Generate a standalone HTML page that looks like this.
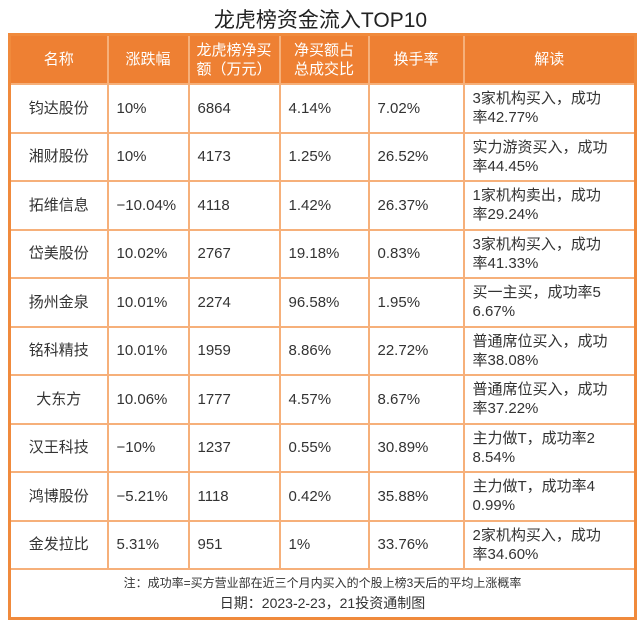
<!DOCTYPE html>
<html><head><meta charset="utf-8"><style>
body{margin:0;width:641px;height:625px;background:#fff;font-family:"Liberation Sans","Noto Sans CJK SC",sans-serif;color:#333;position:relative;overflow:hidden}
.title{position:absolute;left:0;width:641px;top:4px;text-align:center;font-size:21px;color:#222}
table{position:absolute;left:8px;top:33px;width:629px;border-collapse:collapse;border:3px solid #f08a3c;table-layout:fixed}
td,th{border:2px solid #f6b07a;font-size:15px;font-weight:normal;padding:0 0 0 8px;text-align:left;line-height:19px;height:46.5px}
th{background:#ee8033;color:#fff;border-color:#f6b07a;height:47px;text-align:center;padding:0}
td.n{text-align:center;padding:0}
.f td{text-align:center;padding:0;height:47px;line-height:20px}
</style></head><body>
<div class="title">龙虎榜资金流入TOP10</div>
<table>
<colgroup><col style="width:98px"><col style="width:81px"><col style="width:91px"><col style="width:89px"><col style="width:95px"><col></colgroup>
<tr><th>名称</th><th>涨跌幅</th><th>龙虎榜净买<br>额（万元）</th><th>净买额占<br>总成交比</th><th>换手率</th><th>解读</th></tr>
<tr><td class="n">钧达股份</td><td>10%</td><td>6864</td><td>4.14%</td><td>7.02%</td><td>3家机构买入，成功<br>率42.77%</td></tr>
<tr><td class="n">湘财股份</td><td>10%</td><td>4173</td><td>1.25%</td><td>26.52%</td><td>实力游资买入，成功<br>率44.45%</td></tr>
<tr><td class="n">拓维信息</td><td>−10.04%</td><td>4118</td><td>1.42%</td><td>26.37%</td><td>1家机构卖出，成功<br>率29.24%</td></tr>
<tr><td class="n">岱美股份</td><td>10.02%</td><td>2767</td><td>19.18%</td><td>0.83%</td><td>3家机构买入，成功<br>率41.33%</td></tr>
<tr><td class="n">扬州金泉</td><td>10.01%</td><td>2274</td><td>96.58%</td><td>1.95%</td><td>买一主买，成功率5<br>6.67%</td></tr>
<tr><td class="n">铭科精技</td><td>10.01%</td><td>1959</td><td>8.86%</td><td>22.72%</td><td>普通席位买入，成功<br>率38.08%</td></tr>
<tr><td class="n">大东方</td><td>10.06%</td><td>1777</td><td>4.57%</td><td>8.67%</td><td>普通席位买入，成功<br>率37.22%</td></tr>
<tr><td class="n">汉王科技</td><td>−10%</td><td>1237</td><td>0.55%</td><td>30.89%</td><td>主力做T，成功率2<br>8.54%</td></tr>
<tr><td class="n">鸿博股份</td><td>−5.21%</td><td>1118</td><td>0.42%</td><td>35.88%</td><td>主力做T，成功率4<br>0.99%</td></tr>
<tr><td class="n">金发拉比</td><td>5.31%</td><td>951</td><td>1%</td><td>33.76%</td><td>2家机构买入，成功<br>率34.60%</td></tr>
<tr class="f"><td colspan="6"><span style="font-size:12px">注：成功率=买方营业部在近三个月内买入的个股上榜3天后的平均上涨概率</span><br><span style="font-size:14px">日期：2023-2-23，21投资通制图</span></td></tr>
</table>
</body></html>
